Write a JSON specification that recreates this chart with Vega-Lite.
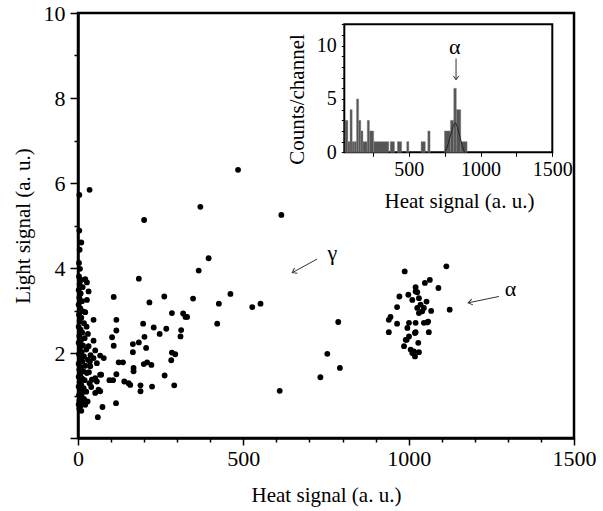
{
  "$schema": "https://vega.github.io/schema/vega-lite/v6.json",
  "width": 496,
  "height": 425,
  "autosize": {"type": "none"},
  "padding": {"left": 78, "top": 13, "right": 29, "bottom": 73},
  "background": "white",
  "config": {
    "view": {"stroke": "black", "strokeWidth": 2.5},
    "font": "Liberation Serif",
    "axis": {"labelFont": "Liberation Serif", "titleFont": "Liberation Serif", "labelColor": "black", "titleColor": "black", "titleFontWeight": "normal", "domainColor": "black", "tickColor": "black", "grid": false, "labelOverlap": false, "labelFlush": false}
  },
  "datasets": {
    "scatter": [
      {"h":484,"l":6.31},{"h":35,"l":5.84},{"h":370,"l":5.44},{"h":615,"l":5.25},{"h":200,"l":5.13},{"h":395,"l":4.23},{"h":365,"l":3.94},{"h":4,"l":5.72},{"h":4,"l":4.88},{"h":10,"l":4.60},{"h":5,"l":4.43},{"h":3,"l":4.12},{"h":6,"l":3.98},
      {"h":184,"l":3.75},{"h":108,"l":3.32},{"h":261,"l":3.33},{"h":348,"l":3.28},{"h":461,"l":3.39},{"h":216,"l":3.19},{"h":426,"l":3.16},{"h":527,"l":3.08},{"h":552,"l":3.16},{"h":284,"l":2.94},{"h":318,"l":2.93},{"h":325,"l":2.85},{"h":330,"l":2.85},{"h":116,"l":2.78},{"h":197,"l":2.69},{"h":421,"l":2.69},{"h":229,"l":2.60},{"h":267,"l":2.57},{"h":247,"l":2.45},{"h":312,"l":2.54},{"h":310,"l":2.39},{"h":116,"l":2.53},{"h":103,"l":2.37},{"h":201,"l":2.38},{"h":184,"l":2.25},{"h":166,"l":2.21},{"h":108,"l":2.17},{"h":206,"l":2.12},{"h":166,"l":2.02},{"h":284,"l":2.01},{"h":294,"l":1.97},{"h":282,"l":1.83},{"h":123,"l":1.78},{"h":136,"l":1.78},{"h":199,"l":1.74},{"h":209,"l":1.78},{"h":222,"l":1.72},{"h":168,"l":1.65},{"h":168,"l":1.57},{"h":116,"l":1.50},{"h":262,"l":1.47},{"h":140,"l":1.33},{"h":153,"l":1.29},{"h":158,"l":1.25},{"h":95,"l":1.36},{"h":106,"l":1.36},{"h":67,"l":1.49},{"h":291,"l":1.24},{"h":224,"l":1.21},{"h":189,"l":1.10},{"h":189,"l":1.24},{"h":115,"l":0.82},{"h":74,"l":0.73},{"h":60,"l":0.49},
      {"h":787,"l":2.73},{"h":754,"l":1.98},{"h":792,"l":1.65},{"h":733,"l":1.43},{"h":610,"l":1.11},
      {"h":22,"l":3.74},{"h":27,"l":3.66},{"h":32,"l":3.45},{"h":27,"l":3.25},{"h":22,"l":2.96},{"h":47,"l":2.78},{"h":47,"l":2.29},{"h":32,"l":2.16},{"h":52,"l":2.06},{"h":67,"l":1.94},{"h":78,"l":1.88},{"h":47,"l":1.88},{"h":57,"l":1.76},{"h":37,"l":1.69},{"h":70,"l":1.49},{"h":52,"l":1.41},{"h":57,"l":1.33},{"h":42,"l":1.37},{"h":62,"l":1.14},{"h":67,"l":1.10},{"h":52,"l":1.06},{"h":29,"l":0.86},{"h":22,"l":0.78},{"h":38,"l":1.95},{"h":33,"l":1.55},{"h":40,"l":1.20},{"h":30,"l":2.45},{"h":26,"l":2.62},{"h":36,"l":1.80},
      {"h":3,"l":3.80},{"h":10,"l":3.72},{"h":5,"l":3.62},{"h":14,"l":3.55},{"h":2,"l":3.48},{"h":8,"l":3.40},{"h":4,"l":3.30},{"h":12,"l":3.22},{"h":2,"l":3.14},{"h":7,"l":3.05},{"h":15,"l":2.98},{"h":3,"l":2.90},{"h":10,"l":2.83},{"h":5,"l":2.75},{"h":18,"l":2.70},{"h":2,"l":2.62},{"h":8,"l":2.55},{"h":13,"l":2.48},{"h":4,"l":2.40},{"h":20,"l":2.35},{"h":9,"l":2.30},{"h":2,"l":2.24},{"h":15,"l":2.18},{"h":6,"l":2.12},{"h":25,"l":2.08},{"h":11,"l":2.02},{"h":3,"l":1.97},{"h":18,"l":1.92},{"h":7,"l":1.87},{"h":30,"l":1.84},{"h":13,"l":1.80},{"h":2,"l":1.75},{"h":22,"l":1.70},{"h":9,"l":1.66},{"h":4,"l":1.61},{"h":16,"l":1.57},{"h":27,"l":1.53},{"h":7,"l":1.49},{"h":2,"l":1.44},{"h":12,"l":1.40},{"h":20,"l":1.36},{"h":5,"l":1.32},{"h":35,"l":1.29},{"h":10,"l":1.25},{"h":2,"l":1.21},{"h":17,"l":1.17},{"h":6,"l":1.13},{"h":25,"l":1.09},{"h":12,"l":1.05},{"h":3,"l":1.01},{"h":8,"l":0.96},{"h":18,"l":0.92},{"h":4,"l":0.88},{"h":12,"l":0.83},{"h":2,"l":0.79},{"h":7,"l":0.74},{"h":4,"l":0.69},{"h":10,"l":0.64},
      {"h":1114,"l":4.04},{"h":988,"l":3.92},{"h":1064,"l":3.72},{"h":1049,"l":3.65},{"h":1021,"l":3.55},{"h":1090,"l":3.53},{"h":972,"l":3.33},{"h":999,"l":3.37},{"h":1026,"l":3.43},{"h":1031,"l":3.29},{"h":1011,"l":3.25},{"h":965,"l":3.08},{"h":1036,"l":3.14},{"h":1026,"l":3.06},{"h":1046,"l":3.06},{"h":1031,"l":2.94},{"h":1041,"l":2.98},{"h":1124,"l":3.02},{"h":945,"l":2.85},{"h":940,"l":2.78},{"h":965,"l":2.69},{"h":1001,"l":2.71},{"h":1021,"l":2.71},{"h":1046,"l":2.71},{"h":1059,"l":2.74},{"h":996,"l":2.59},{"h":940,"l":2.49},{"h":1021,"l":2.49},{"h":1061,"l":2.49},{"h":1001,"l":2.39},{"h":991,"l":2.31},{"h":1029,"l":2.24},{"h":986,"l":2.16},{"h":1006,"l":2.08},{"h":1016,"l":2.04},{"h":1031,"l":2.02},{"h":1019,"l":1.92},{"h":1011,"l":2.00},{"h":1021,"l":3.45},{"h":1054,"l":3.21},{"h":1068,"l":2.99},{"h":1056,"l":2.72},{"h":1019,"l":2.47},{"h":994,"l":2.31}
    ],
    "hist": [
      {"a":55,"b":75,"n":3},{"a":75,"b":90,"n":1},{"a":90,"b":105,"n":4},{"a":105,"b":120,"n":1},{"a":120,"b":135,"n":1},{"a":135,"b":150,"n":5},{"a":150,"b":165,"n":3},{"a":165,"b":180,"n":2},{"a":180,"b":210,"n":1},{"a":210,"b":225,"n":3},{"a":225,"b":255,"n":2},{"a":255,"b":360,"n":1},{"a":370,"b":400,"n":1},{"a":420,"b":450,"n":1},{"a":485,"b":500,"n":1},{"a":585,"b":615,"n":1},{"a":632,"b":648,"n":2},{"a":748,"b":790,"n":2},{"a":790,"b":813,"n":3},{"a":813,"b":831,"n":6},{"a":831,"b":862,"n":4},{"a":862,"b":906,"n":1}
    ],
    "fit": [
      {"h":750,"c":0},{"h":770,"c":0.6},{"h":790,"c":1.6},{"h":805,"c":2.3},{"h":818,"c":2.7},{"h":826,"c":2.75},{"h":838,"c":2.4},{"h":855,"c":1.5},{"h":870,"c":0.7},{"h":888,"c":0}
    ]
  },
  "layer": [
    {
      "layer": [
        {
          "data": {"name": "scatter"},
          "mark": {"type": "point", "filled": true, "shape": "circle", "color": "black", "size": 34, "opacity": 1},
          "encoding": {
            "x": {"field": "h", "type": "quantitative",
              "scale": {"domain": [0, 1500], "nice": false, "zero": false},
              "axis": {"orient": "bottom", "values": [0,100,200,300,400,500,600,700,800,900,1000,1100,1200,1300,1400,1500], "tickCount": 100, "format": "d",
                "labelOverlap": false, "labelFlush": false,
                "labelExpr": "datum.value % 500 === 0 ? datum.label : ''",
                "tickSize": {"condition": {"test": "datum.value % 500 === 0", "value": 7}, "value": 4},
                "tickWidth": 1.5, "domainWidth": 2.5, "labelFontSize": 22, "labelPadding": 3, "zindex": 1,
                "title": "Heat signal (a. u.)", "titleFontSize": 21, "titleY": 63.7, "titleBaseline": "alphabetic"}},
            "y": {"field": "l", "type": "quantitative",
              "scale": {"domain": [0, 10], "nice": false},
              "axis": {"orient": "left", "values": [0,0.5,1,1.5,2,2.5,3,3.5,4,4.5,5,5.5,6,6.5,7,7.5,8,8.5,9,9.5,10], "tickCount": 100, "format": "d",
                "labelOverlap": false, "labelFlush": false,
                "labelExpr": "datum.value >= 2 && datum.value % 2 === 0 ? datum.label : ''",
                "tickSize": {"condition": {"test": "datum.value % 2 === 0", "value": 8}, "value": 4},
                "tickWidth": 1.5, "domainWidth": 2.5, "labelFontSize": 22, "labelPadding": 5, "zindex": 1,
                "title": "Light signal (a. u.)", "titleFontSize": 21, "titleX": -55, "titleY": 212.5, "titleAngle": 270, "titleAlign": "center", "titleBaseline": "middle"}}
          }
        },
        {
          "data": {"values": [{"h": 769, "l": 4.36, "t": "γ"}, {"h": 1308, "l": 3.51, "t": "α"}]},
          "mark": {"type": "text", "fontSize": 22, "font": "Liberation Serif", "color": "black"},
          "encoding": {"x": {"field": "h", "type": "quantitative"}, "y": {"field": "l", "type": "quantitative"}, "text": {"field": "t"}}
        },
        {
          "data": {"values": [{"h": 723, "l": 4.21, "h2": 648, "l2": 3.89}]},
          "mark": {"type": "rule", "color": "#333", "strokeWidth": 1},
          "encoding": {"x": {"field": "h", "type": "quantitative"}, "y": {"field": "l", "type": "quantitative"}, "x2": {"field": "h2"}, "y2": {"field": "l2"}}
        },
        {
          "data": {"values": [{"h": 648, "l": 3.89}]},
          "mark": {"type": "point", "shape": "M-1,-0.7L0,0L-1,0.7", "filled": false, "color": "#333", "strokeWidth": 1, "size": 70, "angle": 151, "opacity": 1},
          "encoding": {"x": {"field": "h", "type": "quantitative"}, "y": {"field": "l", "type": "quantitative"}}
        },
        {
          "data": {"values": [{"h": 1273, "l": 3.33, "h2": 1180, "l2": 3.18}]},
          "mark": {"type": "rule", "color": "#333", "strokeWidth": 1},
          "encoding": {"x": {"field": "h", "type": "quantitative"}, "y": {"field": "l", "type": "quantitative"}, "x2": {"field": "h2"}, "y2": {"field": "l2"}}
        },
        {
          "data": {"values": [{"h": 1180, "l": 3.18}]},
          "mark": {"type": "point", "shape": "M-1,-0.7L0,0L-1,0.7", "filled": false, "color": "#333", "strokeWidth": 1, "size": 70, "angle": 168, "opacity": 1},
          "encoding": {"x": {"field": "h", "type": "quantitative"}, "y": {"field": "l", "type": "quantitative"}}
        }
      ]
    },
    {
      "layer": [
        {
          "data": {"values": [{}]},
          "mark": {"type": "rect", "fill": "white", "stroke": "black", "strokeWidth": 2},
          "encoding": {
            "x": {"datum": 50, "type": "quantitative",
              "scale": {"domain": [50, 1500], "range": [266.3, 474.3], "nice": false, "zero": false},
              "axis": {"orient": "bottom", "offset": -285.7, "zindex": 2, "values": [250,500,750,1000,1250,1500], "tickCount": 100, "format": "d",
                "labelOverlap": false, "labelFlush": false,
                "labelExpr": "datum.value % 500 === 0 ? datum.label : ''", "tickSize": 4, "tickWidth": 1, "domain": false,
                "labelFontSize": 20, "labelPadding": 3,
                "title": "Heat signal (a. u.)", "titleFontSize": 21, "titleX": 381, "titleY": 55, "titleBaseline": "alphabetic", "titleAlign": "center"}},
            "x2": {"datum": 1500},
            "y": {"datum": 0, "type": "quantitative",
              "scale": {"domain": [0, 12], "range": [139.3, 11.3], "nice": false},
              "axis": {"orient": "left", "offset": -266.3, "zindex": 2, "values": [0,1,2,3,4,5,6,7,8,9,10,11,12], "tickCount": 100, "format": "d",
                "labelOverlap": false, "labelFlush": false,
                "labelExpr": "datum.value % 5 === 0 ? datum.label : ''", "tickSize": 3, "tickWidth": 1, "domain": false,
                "labelFontSize": 20, "labelPadding": 5,
                "title": "Counts/channel", "titleFontSize": 21, "titleX": -47, "titleY": 86, "titleAngle": 270, "titleAlign": "center", "titleBaseline": "middle"}},
            "y2": {"datum": 12}
          }
        },
        {
          "data": {"name": "hist"},
          "mark": {"type": "rect", "color": "#555", "stroke": "#888", "strokeWidth": 0.4},
          "encoding": {"x": {"field": "a", "type": "quantitative"}, "x2": {"field": "b"}, "y": {"field": "n", "type": "quantitative"}, "y2": {"datum": 0}}
        },
        {
          "data": {"name": "fit"},
          "mark": {"type": "line", "color": "#222", "strokeWidth": 1},
          "encoding": {"x": {"field": "h", "type": "quantitative"}, "y": {"field": "c", "type": "quantitative"}}
        },
        {
          "data": {"values": [{"h": 829, "l": 8.8, "h2": 829, "l2": 6.8}]},
          "mark": {"type": "rule", "color": "#333", "strokeWidth": 1},
          "encoding": {"x": {"field": "h", "type": "quantitative"}, "y": {"field": "l", "type": "quantitative"}, "x2": {"field": "h2"}, "y2": {"field": "l2"}}
        },
        {
          "data": {"values": [{"h": 829, "l": 6.8}]},
          "mark": {"type": "point", "shape": "M-1,-0.7L0,0L-1,0.7", "filled": false, "color": "#333", "strokeWidth": 1, "size": 60, "angle": 90, "opacity": 1},
          "encoding": {"x": {"field": "h", "type": "quantitative"}, "y": {"field": "l", "type": "quantitative"}}
        },
        {
          "data": {"values": [{"h": 820, "l": 9.87, "t": "α"}]},
          "mark": {"type": "text", "fontSize": 22, "font": "Liberation Serif", "color": "black"},
          "encoding": {"x": {"field": "h", "type": "quantitative"}, "y": {"field": "l", "type": "quantitative"}, "text": {"field": "t"}}
        }
      ]
    }
  ],
  "resolve": {"scale": {"x": "independent", "y": "independent"}}
}
